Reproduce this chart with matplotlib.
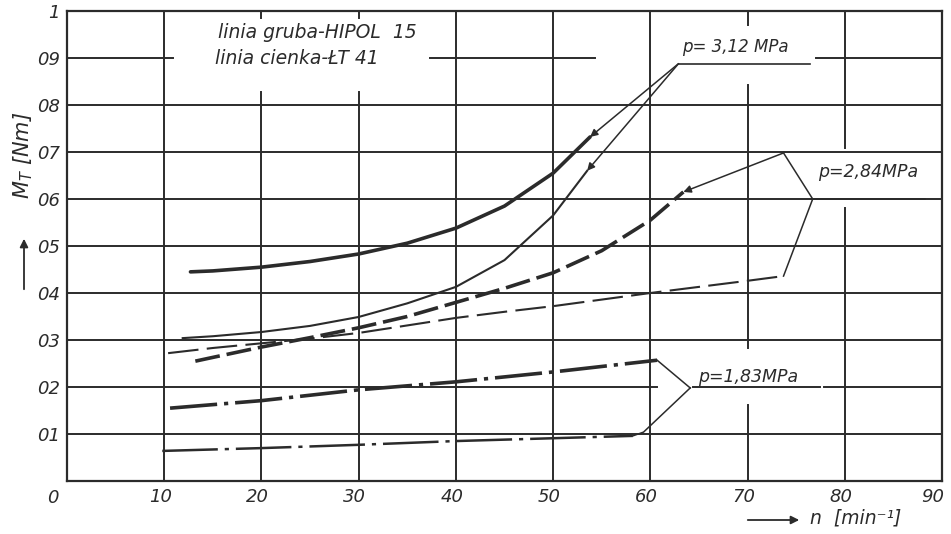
import matplotlib.pyplot as plt
from matplotlib.patches import FancyArrowPatch
from matplotlib.transforms import ScaledTranslation

plt.rcParams['lines.scale_dashes'] = False
plt.rcParams['font.family'] = ['DejaVu Sans']

INK = '#2b2b2b'

# p = 3,12 MPa
n_hipol_312 = [12.7, 15, 20, 25, 30, 35, 40, 45, 50, 53.8]
m_hipol_312 = [0.445, 0.447, 0.455, 0.467, 0.483, 0.506, 0.538, 0.585, 0.655, 0.732]
n_lt_312 = [11.9, 15, 20, 25, 30, 35, 40, 45, 50, 53.5]
m_lt_312 = [0.304, 0.308, 0.317, 0.330, 0.349, 0.378, 0.413, 0.470, 0.565, 0.660]

# p = 2,84 MPa
n_hipol_284 = [13.2, 15, 20, 25, 30, 35, 40, 45, 50, 55, 60, 63.4]
m_hipol_284 = [0.255, 0.263, 0.285, 0.305, 0.326, 0.350, 0.380, 0.410, 0.443, 0.490, 0.555, 0.615]
n_lt_284 = [10.4, 15, 20, 25, 30, 35, 40, 45, 50, 55, 60, 65, 70, 73.7]
m_lt_284 = [0.272, 0.283, 0.293, 0.303, 0.315, 0.331, 0.347, 0.360, 0.372, 0.386, 0.400, 0.413, 0.426, 0.436]

# p = 1,83 MPa
n_hipol_183 = [10.6, 20, 30, 40, 50, 60.7]
m_hipol_183 = [0.155, 0.171, 0.194, 0.211, 0.232, 0.257]
n_lt_183 = [9.8, 20, 30, 40, 50, 58.2]
m_lt_183 = [0.064, 0.070, 0.077, 0.085, 0.091, 0.096]

x_ticks = [10, 20, 30, 40, 50, 60, 70, 80, 90]
y_ticks = [0.1, 0.2, 0.3, 0.4, 0.5, 0.6, 0.7, 0.8, 0.9, 1.0]
y_tick_labels = ['01', '02', '03', '04', '05', '06', '07', '08', '09', '1']

fig = plt.figure(figsize=(9.51, 5.34), dpi=100)
ax = fig.add_axes([67 / 951, 53 / 534, 875 / 951, 470 / 534])
ax.set_xlim(0, 90)
ax.set_ylim(0, 1.0)

# grid, drawn by hand because the drawing leaves gaps for the texts
hgrid = {
    0.1: [(0, 90)], 0.2: [(0, 60.7), (64.4, 77.4), (77.9, 90)],
    0.3: [(0, 90)], 0.4: [(0, 90)], 0.5: [(0, 90)], 0.6: [(0, 90)],
    0.7: [(0, 90)], 0.8: [(0, 90)],
    0.9: [(0, 10.9), (37.3, 54.3), (77.0, 90)],
}
vgrid = {
    10: [(0, 1)], 20: [(0, 0.828), (0.985, 1)], 30: [(0, 0.828), (0.985, 1)],
    40: [(0, 1)], 50: [(0, 1)], 60: [(0, 1)],
    70: [(0, 0.162), (0.283, 0.843), (0.97, 1)], 80: [(0, 0.581), (0.709, 1)],
}
for yv, segs in hgrid.items():
    for a, b in segs:
        ax.plot([a, b], [yv, yv], color=INK, lw=1.4, zorder=1)
for xv, segs in vgrid.items():
    for a, b in segs:
        ax.plot([xv, xv], [a, b], color=INK, lw=1.4, zorder=1)

for s in ax.spines.values():
    s.set_color(INK)
    s.set_linewidth(1.6)

# curves: thick = HIPOL 15, thin = LT 41
ax.plot(n_hipol_312, m_hipol_312, color=INK, lw=2.6, solid_capstyle='round')
ax.plot(n_lt_312, m_lt_312, color=INK, lw=1.5)
ax.plot(n_hipol_284, m_hipol_284, color=INK, lw=2.6, dashes=(18, 5))
ax.plot(n_lt_284, m_lt_284, color=INK, lw=1.5, dashes=(22, 6))
ax.plot(n_hipol_183, m_hipol_183, color=INK, lw=2.6, dashes=(34, 5, 3, 5))
ax.plot(n_lt_183, m_lt_183, color=INK, lw=1.8, dashes=(40, 5, 3, 5))

# labels with leader lines
arrow = dict(arrowstyle='-|>', color=INK, lw=1.1, mutation_scale=11, shrinkA=0, shrinkB=0)

ax.text(63.3, 0.923, 'p= 3,12 MPa', fontsize=12, style='italic', color=INK, va='center')
ax.plot([62.9, 76.4], [0.888, 0.888], color=INK, lw=1.2)
ax.annotate('', xy=(n_hipol_312[-1], m_hipol_312[-1]), xytext=(62.9, 0.888), arrowprops=arrow)
ax.annotate('', xy=(n_lt_312[-1], m_lt_312[-1]), xytext=(62.9, 0.888), arrowprops=arrow)

ax.text(77.3, 0.657, 'p=2,84MPa', fontsize=12.5, style='italic', color=INK, va='center')
ax.plot([76.7, 88.3], [0.6, 0.6], color=INK, lw=1.2)
ax.plot([76.7, 73.7], [0.6, 0.698], color=INK, lw=1.1)
ax.annotate('', xy=(n_hipol_284[-1], m_hipol_284[-1]), xytext=(73.7, 0.698), arrowprops=arrow)
ax.plot([76.7, n_lt_284[-1]], [0.6, m_lt_284[-1]], color=INK, lw=1.1)

ax.text(64.9, 0.222, 'p=1,83MPa', fontsize=12.5, style='italic', color=INK, va='center')
ax.plot([64.1, n_hipol_183[-1]], [0.198, m_hipol_183[-1]], color=INK, lw=1.1)
ax.plot([64.1, 59.3, n_lt_183[-1]], [0.198, 0.104, m_lt_183[-1]], color=INK, lw=1.1)

ax.text(15.5, 0.955, 'linia gruba-HIPOL  15', fontsize=13.5, style='italic', color=INK, va='center')
ax.text(15.2, 0.900, 'linia cienka-ŁT 41', fontsize=13.5, style='italic', color=INK, va='center')

# axes ticks
ax.set_xticks(x_ticks)
ax.set_xticklabels([str(v) for v in x_ticks], fontsize=13, style='italic', color=INK)
ax.set_yticks(y_ticks)
ax.set_yticklabels(y_tick_labels, fontsize=13, style='italic', color=INK)
ax.tick_params(length=0, pad=5)
for lab in ax.get_xticklabels():
    lab.set_transform(lab.get_transform() + ScaledTranslation(-0.04, 0, fig.dpi_scale_trans))
last = ax.get_xticklabels()[-1]
last.set_transform(last.get_transform() + ScaledTranslation(-0.05, 0, fig.dpi_scale_trans))
ax.text(-1.5, -0.017, '0', fontsize=13, style='italic', color=INK, ha='center', va='top')

# axis titles with arrows
fig.text(23 / 951, 1 - 155 / 534, '$M_T$ [Nm]', rotation=90, fontsize=15,
         style='italic', color=INK, ha='center', va='center')
fig.patches.append(FancyArrowPatch(
    (24 / 951, 1 - 292 / 534), (24 / 951, 1 - 236 / 534), transform=fig.transFigure,
    arrowstyle='-|>', mutation_scale=12, color=INK, lw=1.3))
fig.patches.append(FancyArrowPatch(
    (745 / 951, 1 - 520 / 534), (802 / 951, 1 - 520 / 534), transform=fig.transFigure,
    arrowstyle='-|>', mutation_scale=12, color=INK, lw=1.3))
fig.text(810 / 951, 1 - 518 / 534, 'n  [min⁻¹]', fontsize=13.5, style='italic',
         color=INK, ha='left', va='center')

plt.savefig('out.png', dpi=100)
